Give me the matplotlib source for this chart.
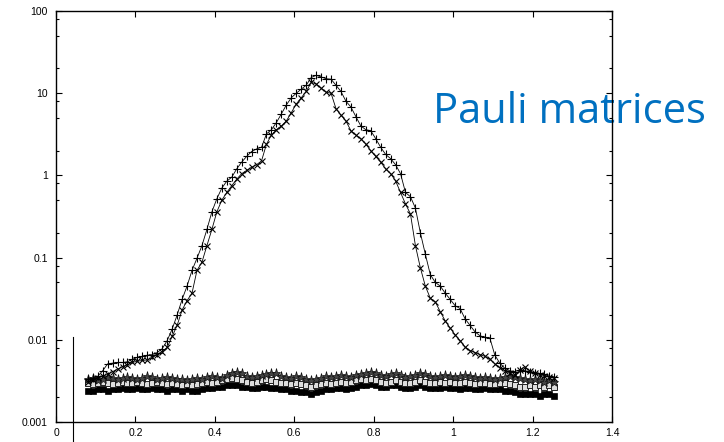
import matplotlib
matplotlib.use("Agg")
import matplotlib.pyplot as plt
import numpy as np
from matplotlib.ticker import LogLocator, FixedLocator, NullFormatter

plt.rcParams["font.family"] = ["Liberation Sans", "DejaVu Sans"]

# x grid shared by every series
X_START = 0.08
X_STEP = 0.0125

PLUS_VALUES = [
    0.0033, 0.0034, 0.0036, 0.0042, 0.0051, 0.0052, 0.0053, 0.0053, 0.0054, 0.0058,
    0.0061, 0.0063, 0.0065, 0.0066, 0.0070, 0.0078, 0.0098, 0.0135, 0.020, 0.031,
    0.045, 0.070, 0.098, 0.14, 0.22, 0.36, 0.52, 0.70, 0.85, 0.95,
    1.20, 1.45, 1.70, 1.95, 2.10, 2.20, 3.2, 3.6, 4.4, 5.6,
    7.2, 8.8, 10.0, 11.2, 12.5, 15.5, 16.5, 15.8, 15.0, 14.8,
    12.5, 10.5, 8.0, 6.8, 5.2, 4.0, 3.6, 3.5, 2.8, 2.2,
    1.8, 1.6, 1.35, 1.05, 0.62, 0.55, 0.40, 0.20, 0.11, 0.062,
    0.050, 0.045, 0.037, 0.031, 0.026, 0.024, 0.018, 0.015, 0.0125, 0.0112,
    0.0107, 0.0105, 0.0065, 0.0052, 0.0045, 0.0042, 0.0041, 0.0043, 0.0042, 0.0041,
    0.0040, 0.0039, 0.0038, 0.0036, 0.0035,
]

CROSS_VALUES = [
    0.0031, 0.0032, 0.0034, 0.0036, 0.0038, 0.0041, 0.0044, 0.0047, 0.0050, 0.0053,
    0.0055, 0.0056, 0.0057, 0.0061, 0.0066, 0.0072, 0.0081, 0.0110, 0.0150, 0.023,
    0.030, 0.037, 0.070, 0.088, 0.14, 0.22, 0.36, 0.50, 0.62, 0.75,
    0.90, 1.05, 1.15, 1.25, 1.35, 1.50, 2.4, 3.1, 3.6, 4.0,
    4.6, 5.8, 7.4, 8.8, 10.5, 13.5, 13.0, 11.5, 10.3, 10.0,
    6.5, 5.4, 4.6, 3.5, 3.1, 2.8, 2.4, 2.0, 1.7, 1.45,
    1.2, 1.05, 0.86, 0.62, 0.45, 0.34, 0.14, 0.075, 0.045, 0.032,
    0.029, 0.022, 0.017, 0.0139, 0.0115, 0.0098, 0.0082, 0.0074, 0.0070, 0.0066,
    0.0063, 0.0058, 0.0051, 0.0046, 0.0042, 0.0039, 0.0037, 0.0043, 0.0047, 0.0042,
    0.0039, 0.0037, 0.0036, 0.0035, 0.0034,
]

STAR_VALUES = [
    0.0033, 0.0034, 0.0032, 0.0033, 0.0035, 0.0034, 0.0033, 0.0034, 0.0035, 0.0034,
    0.0033, 0.0034, 0.0036, 0.0035, 0.0033, 0.0034, 0.0035, 0.0034, 0.0033, 0.0033,
    0.0032, 0.0033, 0.0034, 0.0033, 0.0035, 0.0036, 0.0035, 0.0034, 0.0037, 0.0040,
    0.0041, 0.0039, 0.0036, 0.0035, 0.0036, 0.0037, 0.0038, 0.0040, 0.0039, 0.0036,
    0.0035, 0.0034, 0.0036, 0.0035, 0.0033, 0.0032, 0.0033, 0.0034, 0.0036, 0.0035,
    0.0036, 0.0037, 0.0036, 0.0035, 0.0037, 0.0038, 0.0039, 0.0041, 0.0040, 0.0037,
    0.0036, 0.0038, 0.0039, 0.0037, 0.0035, 0.0036, 0.0037, 0.0039, 0.0038, 0.0036,
    0.0035, 0.0036, 0.0037, 0.0036, 0.0035, 0.0036, 0.0037, 0.0036, 0.0035, 0.0034,
    0.0035, 0.0034, 0.0033, 0.0034, 0.0035, 0.0036, 0.0035, 0.0034, 0.0033, 0.0032,
    0.0033, 0.0032, 0.0031, 0.0032, 0.0031,
]

OPEN_SQUARE_VALUES = [
    0.0030, 0.0029, 0.0030, 0.0031, 0.0030, 0.0029, 0.0030, 0.0031, 0.0030, 0.0030,
    0.0031, 0.0030, 0.0029, 0.0030, 0.0031, 0.0030, 0.0029, 0.0030, 0.0029, 0.0028,
    0.0029, 0.0028, 0.0029, 0.0030, 0.0031, 0.0030, 0.0031, 0.0032, 0.0033, 0.0034,
    0.0033, 0.0032, 0.0031, 0.0030, 0.0031, 0.0032, 0.0033, 0.0032, 0.0031, 0.0030,
    0.0030, 0.0029, 0.0030, 0.0029, 0.0028, 0.0027, 0.0028, 0.0029, 0.0030, 0.0029,
    0.0030, 0.0031, 0.0030, 0.0031, 0.0032, 0.0033, 0.0032, 0.0033, 0.0032, 0.0031,
    0.0030, 0.0031, 0.0032, 0.0031, 0.0030, 0.0030, 0.0031, 0.0032, 0.0031, 0.0030,
    0.0030, 0.0031, 0.0030, 0.0031, 0.0030, 0.0030, 0.0031, 0.0030, 0.0029, 0.0030,
    0.0030, 0.0029, 0.0029, 0.0030, 0.0030, 0.0029, 0.0028, 0.0027, 0.0027, 0.0028,
    0.0027, 0.0028, 0.0027, 0.0028, 0.0027,
]

FILLED_SQUARE_VALUES = [
    0.0024, 0.0024, 0.0025, 0.0025, 0.0024, 0.0025, 0.0025, 0.0026, 0.0025, 0.0025,
    0.0026, 0.0025, 0.0025, 0.0026, 0.0025, 0.0025, 0.0024, 0.0025, 0.0025, 0.0024,
    0.0025, 0.0024, 0.0024, 0.0025, 0.0026, 0.0026, 0.0027, 0.0027, 0.0028, 0.0028,
    0.0028, 0.0027, 0.0027, 0.0026, 0.0026, 0.0027, 0.0027, 0.0026, 0.0026, 0.0025,
    0.0025, 0.0024, 0.0024, 0.0023, 0.0023, 0.0022, 0.0023, 0.0024, 0.0025, 0.0025,
    0.0026, 0.0026, 0.0025, 0.0026, 0.0027, 0.0028, 0.0028, 0.0029, 0.0028, 0.0027,
    0.0027, 0.0028, 0.0028, 0.0027, 0.0026, 0.0026, 0.0027, 0.0028, 0.0027, 0.0026,
    0.0026, 0.0026, 0.0027, 0.0026, 0.0026, 0.0025, 0.0026, 0.0026, 0.0025, 0.0025,
    0.0026, 0.0025, 0.0025, 0.0025, 0.0024, 0.0024, 0.0023, 0.0022, 0.0022, 0.0022,
    0.0022, 0.0021, 0.0022, 0.0022, 0.0021,
]

X_TICKS = [0, 0.2, 0.4, 0.6, 0.8, 1.0, 1.2, 1.4]
X_TICK_LABELS = ["0", "0.2", "0.4", "0.6", "0.8", "1", "1.2", "1.4"]
Y_TICKS = [0.001, 0.01, 0.1, 1, 10, 100]
Y_TICK_LABELS = ["0.001", "0.01", "0.1", "1", "10", "100"]

TITLE = "Pauli matrices"
TITLE_COLOR = "#0070C0"


def main() -> None:
    fig = plt.figure(figsize=(7.24, 4.42), dpi=100)
    ax = fig.add_axes([56 / 724, 20 / 442, 556 / 724, 411 / 442])

    x = X_START + X_STEP * np.arange(len(PLUS_VALUES))

    # flat background band first, then the two peaked curves on top
    ax.plot(x, FILLED_SQUARE_VALUES, color="black", lw=0.8, marker="s",
            ms=4.5, mfc="black", mec="black", mew=0.5)
    ax.plot(x, OPEN_SQUARE_VALUES, color="black", lw=0.8, marker="s",
            ms=4.5, mfc="#dddddd", mec="#222222", mew=0.7)
    ax.plot(x, STAR_VALUES, color="#222222", lw=0.8, marker="*",
            ms=6.5, mfc="#444444", mec="#111111", mew=0.5)
    ax.plot(x, CROSS_VALUES, color="black", lw=0.6, marker="x",
            ms=5, mec="black", mew=0.8)
    ax.plot(x, PLUS_VALUES, color="black", lw=0.6, marker="+",
            ms=6, mec="black", mew=0.8)

    ax.set_yscale("log")
    ax.set_xlim(0, 1.4)
    ax.set_ylim(0.001, 100)

    ax.xaxis.set_major_locator(FixedLocator(X_TICKS))
    ax.set_xticklabels(X_TICK_LABELS)
    ax.yaxis.set_major_locator(FixedLocator(Y_TICKS))
    ax.set_yticklabels(Y_TICK_LABELS)
    ax.yaxis.set_minor_locator(LogLocator(base=10, subs=(2.0, 5.0, 8.0)))
    ax.yaxis.set_minor_formatter(NullFormatter())

    ax.tick_params(axis="both", which="both", direction="in",
                   top=True, right=True, labelsize=7.5, width=0.8)
    ax.tick_params(axis="both", which="major", length=4)
    ax.tick_params(axis="y", which="minor", length=2.5)
    ax.tick_params(axis="y", which="major", pad=6)
    ax.tick_params(axis="x", which="major", pad=4)
    for spine in ax.spines.values():
        spine.set_linewidth(1.0)

    # stray vertical bar near x = 0 running below the frame
    ax.axvline(0.042, ymin=-0.05, ymax=0.207, clip_on=False,
               color="black", lw=0.8)

    ax.text(433 / 724, 1 - 123 / 442, TITLE, transform=fig.transFigure,
            fontsize=30, color=TITLE_COLOR, family=["Open Sans", "DejaVu Sans"],
            ha="left", va="baseline", zorder=2, clip_on=False)

    fig.savefig("out.png", dpi=100)


if __name__ == "__main__":
    main()
